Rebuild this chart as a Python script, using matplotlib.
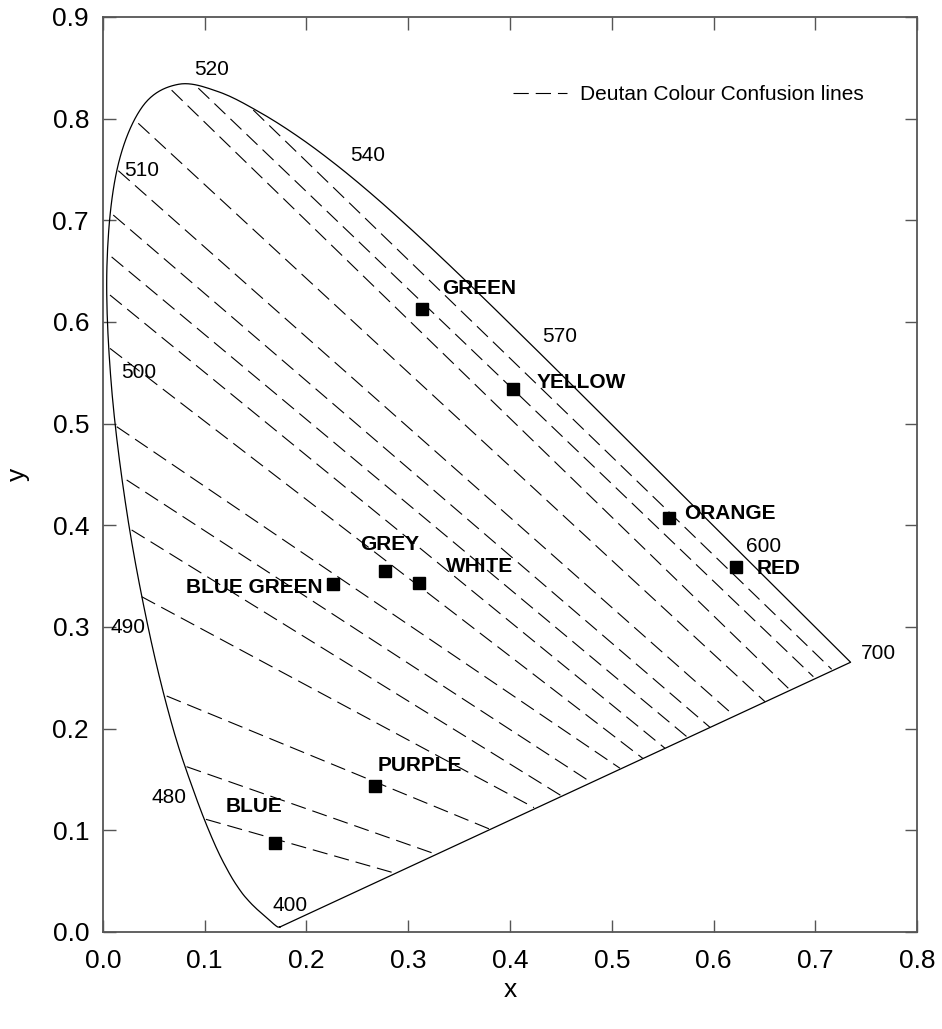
import numpy as np
import matplotlib
matplotlib.use("Agg")
import matplotlib.pyplot as plt
from matplotlib.ticker import FormatStrFormatter

plt.rcParams['font.family'] = ['Liberation Sans', 'DejaVu Sans']
plt.rcParams['lines.scale_dashes'] = False

# CIE 1931 spectral locus, 380-700 nm in 5 nm steps
locus_x = [0.1741, 0.1740, 0.1738, 0.1736, 0.1733, 0.1730, 0.1726, 0.1721, 0.1714, 0.1703,
           0.1689, 0.1669, 0.1644, 0.1611, 0.1566, 0.1510, 0.1440, 0.1355, 0.1241, 0.1096,
           0.0913, 0.0687, 0.0454, 0.0235, 0.0082, 0.0039, 0.0139, 0.0389, 0.0743, 0.1142,
           0.1547, 0.1929, 0.2296, 0.2658, 0.3016, 0.3373, 0.3731, 0.4087, 0.4441, 0.4788,
           0.5125, 0.5448, 0.5752, 0.6029, 0.6270, 0.6482, 0.6658, 0.6801, 0.6915, 0.7006,
           0.7079, 0.7140, 0.7190, 0.7230, 0.7260, 0.7283, 0.7300, 0.7311, 0.7320, 0.7327,
           0.7334, 0.7340, 0.7344, 0.7346, 0.7347]
locus_y = [0.0050, 0.0050, 0.0049, 0.0049, 0.0048, 0.0048, 0.0048, 0.0048, 0.0051, 0.0058,
           0.0069, 0.0086, 0.0109, 0.0138, 0.0177, 0.0227, 0.0297, 0.0399, 0.0578, 0.0868,
           0.1327, 0.2007, 0.2950, 0.4127, 0.5384, 0.6548, 0.7502, 0.8120, 0.8338, 0.8262,
           0.8059, 0.7816, 0.7543, 0.7243, 0.6923, 0.6589, 0.6245, 0.5896, 0.5547, 0.5202,
           0.4866, 0.4544, 0.4242, 0.3965, 0.3725, 0.3514, 0.3340, 0.3197, 0.3083, 0.2993,
           0.2920, 0.2859, 0.2809, 0.2770, 0.2740, 0.2717, 0.2700, 0.2689, 0.2680, 0.2673,
           0.2666, 0.2660, 0.2656, 0.2654, 0.2653]

# wavelength labels
wl_labels = ['520', '540', '510', '570', '500', '490', '480', '400', '600', '700']
wl_x = [0.107, 0.260, 0.038, 0.449, 0.035, 0.025, 0.065, 0.184, 0.649, 0.762]
wl_y = [0.848, 0.764, 0.749, 0.586, 0.550, 0.299, 0.132, 0.026, 0.379, 0.274]

# deutan confusion lines: start on the locus, end on the boundary
line_x0 = [0.1477, 0.0937, 0.0675, 0.0347, 0.0151, 0.0101, 0.0085, 0.0069,
           0.0069, 0.0135, 0.0233, 0.0282, 0.0380, 0.0626, 0.0821, 0.1012]
line_y0 = [0.8085, 0.8300, 0.8280, 0.7954, 0.7488, 0.7052, 0.6640, 0.6265,
           0.5740, 0.4970, 0.4446, 0.3954, 0.3298, 0.2321, 0.1626, 0.1108]
line_x1 = [0.7161, 0.6981, 0.6735, 0.6506, 0.6195, 0.5966, 0.5749, 0.5523,
           0.5307, 0.5081, 0.4786, 0.4507, 0.4236, 0.3797, 0.3246, 0.2853]
line_y1 = [0.2584, 0.2511, 0.2397, 0.2265, 0.2134, 0.2012, 0.1911, 0.1807,
           0.1706, 0.1610, 0.1479, 0.1338, 0.1223, 0.1013, 0.0774, 0.0583]

# named colours
colour_names = ['GREEN', 'YELLOW', 'ORANGE', 'RED', 'GREY', 'WHITE',
                'BLUE GREEN', 'PURPLE', 'BLUE']
colour_x = [0.3132, 0.4026, 0.5566, 0.6221, 0.2775, 0.3106, 0.2257, 0.2673, 0.1690]
colour_y = [0.6125, 0.5338, 0.4075, 0.3587, 0.3548, 0.3433, 0.3423, 0.1436, 0.0872]
label_x = [0.333, 0.426, 0.571, 0.642, 0.253, 0.337, 0.082, 0.270, 0.121]
label_y = [0.633, 0.540, 0.412, 0.358, 0.381, 0.359, 0.339, 0.164, 0.123]


def catmull_rom(px, py, n=12):
    # smooth curve through the given points
    p = np.column_stack([px, py])
    p = np.vstack([p[0], p, p[-1]])
    out = []
    t = np.linspace(0, 1, n, endpoint=False)[:, None]
    for i in range(1, len(p) - 2):
        p0, p1, p2, p3 = p[i - 1], p[i], p[i + 1], p[i + 2]
        seg = 0.5 * ((2 * p1) + (-p0 + p2) * t + (2 * p0 - 5 * p1 + 4 * p2 - p3) * t ** 2
                     + (-p0 + 3 * p1 - 3 * p2 + p3) * t ** 3)
        out.append(seg)
    out.append(p[-2][None, :])
    out = np.vstack(out)
    return out[:, 0], out[:, 1]


fig = plt.figure(figsize=(9.42, 10.29), dpi=100)
ax = fig.add_axes([0.1093, 0.0943, 0.8642, 0.8892])

# locus plus the line of purples
sx, sy = catmull_rom(locus_x, locus_y)
ax.plot(np.append(sx, locus_x[0]), np.append(sy, locus_y[0]), color='black', lw=0.9)

for i in range(len(line_x0)):
    ax.plot([line_x0[i], line_x1[i]], [line_y0[i], line_y1[i]], color='black',
            lw=0.8, dashes=(11, 5),
            label='Deutan Colour Confusion lines' if i == 0 else None)

for lab, x, y in zip(wl_labels, wl_x, wl_y):
    ax.text(x, y, lab, fontsize=15, ha='center', va='center')

ax.plot(colour_x, colour_y, 's', color='black', ms=8.5, ls='none')
for name, x, y in zip(colour_names, label_x, label_y):
    ax.text(x, y, name, fontsize=15, fontweight='bold', ha='left', va='center')

ax.legend(loc='center left', bbox_to_anchor=(0.504, 0.915), frameon=False,
          fontsize=15, handlelength=2.6, handletextpad=0.6,
          borderpad=0, borderaxespad=0)

ax.set_xlim(0, 0.8)
ax.set_ylim(0, 0.9)
ax.set_xticks(np.arange(0, 0.81, 0.1))
ax.set_yticks(np.arange(0, 0.91, 0.1))
ax.xaxis.set_major_formatter(FormatStrFormatter('%.1f'))
ax.yaxis.set_major_formatter(FormatStrFormatter('%.1f'))
ax.tick_params(direction='in', length=9, width=1, top=True, right=True,
               labelsize=19, color='#555555')
ax.tick_params(axis='x', pad=12)
ax.tick_params(axis='y', pad=10)
for s in ax.spines.values():
    s.set_color('#555555')
    s.set_linewidth(1.3)
ax.set_xlabel('x', fontsize=19, labelpad=4)
ax.set_ylabel('y', fontsize=19, labelpad=16)

fig.savefig('out.png', dpi=100)
